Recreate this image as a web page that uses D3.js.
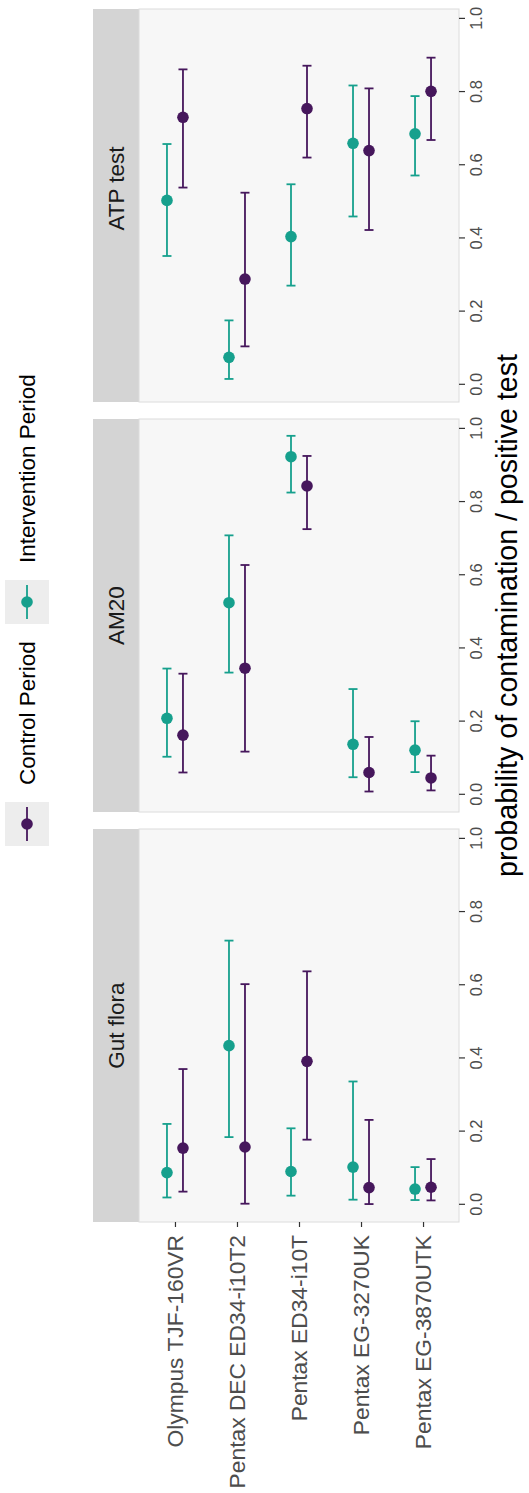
<!DOCTYPE html>
<html>
<head>
<meta charset="utf-8">
<script src="https://cdn.jsdelivr.net/npm/d3@7"></script>
<style>
  body { margin: 0; background: #fff; }
  text { font-family: "Liberation Sans", Arial, sans-serif; }
</style>
</head>
<body>
<div id="wrapper"></div>
<script>
// values: [estimate, lower, upper] per device
const devices = [
    "Olympus TJF-160VR",
    "Pentax DEC ED34-i10T2",
    "Pentax ED34-i10T",
    "Pentax EG-3270UK",
    "Pentax EG-3870UTK"
];
const facets = ["Gut flora", "AM20", "ATP test"];
const periods = ["Control Period", "Intervention Period"];

const gutControl = [[0.155, 0.036, 0.371], [0.158, 0.003, 0.603], [0.392, 0.178, 0.638], [0.047, 0.002, 0.232], [0.048, 0.012, 0.125]];
const gutIntervention = [[0.088, 0.020, 0.221], [0.435, 0.185, 0.722], [0.091, 0.025, 0.209], [0.103, 0.014, 0.337], [0.043, 0.013, 0.103]];
const am20Control = [[0.163, 0.061, 0.331], [0.346, 0.118, 0.628], [0.844, 0.726, 0.926], [0.061, 0.009, 0.158], [0.046, 0.012, 0.107]];
const am20Intervention = [[0.209, 0.104, 0.345], [0.525, 0.334, 0.709], [0.924, 0.826, 0.981], [0.138, 0.048, 0.289], [0.122, 0.062, 0.201]];
const atpControl = [[0.731, 0.539, 0.862], [0.289, 0.105, 0.525], [0.755, 0.621, 0.872], [0.640, 0.423, 0.810], [0.802, 0.669, 0.894]];
const atpIntervention = [[0.504, 0.352, 0.658], [0.075, 0.016, 0.176], [0.405, 0.271, 0.548], [0.660, 0.460, 0.818], [0.686, 0.572, 0.789]];

const probTicks = [0, 0.2, 0.4, 0.6, 0.8, 1.0];

function drawChart() {
    // 1. Assemble data

    const series = {
        "Gut flora": { "Control Period": gutControl, "Intervention Period": gutIntervention },
        "AM20": { "Control Period": am20Control, "Intervention Period": am20Intervention },
        "ATP test": { "Control Period": atpControl, "Intervention Period": atpIntervention }
    };
    const data = [];
    facets.forEach(f => periods.forEach(p => series[f][p].forEach((v, i) => {
        data.push({ facet: f, period: p, device: devices[i], est: v[0], lo: v[1], hi: v[2] });
    })));

    // 2. Dimensions (drawn unrotated, then turned -90deg)

    const dimensions = {
        width: 1493,
        height: 529,
        panelLeft: 271,
        panelRight: 1484,
        stripTop: 93,
        panelTop: 139,
        panelBottom: 459
    };

    const wrapper = d3.select("#wrapper")
        .append("svg")
        .attr("width", dimensions.height)
        .attr("height", dimensions.width);

    const bounds = wrapper.append("g")
        .attr("transform", `translate(0,${dimensions.width}) rotate(-90)`);

    // 3. Scales

    const facetScale = d3.scaleBand()
        .domain(facets)
        .range([dimensions.panelLeft, dimensions.panelRight])
        .paddingInner(17 / 410);

    const xScale = d3.scaleLinear()
        .domain([-0.047, 1.027])
        .range([0, facetScale.bandwidth()]);

    const yScale = d3.scalePoint()
        .domain(devices)
        .range([dimensions.panelTop, dimensions.panelBottom])
        .padding(0.58);

    const dodge = d3.scalePoint()
        .domain(["Intervention Period", "Control Period"])
        .range([-8, 8]);

    const colorScale = d3.scaleOrdinal()
        .domain(periods)
        .range(["#46175c", "#16a08d"]);

    // strip label offsets as seen in the picture
    const stripShift = { "Gut flora": 0, "AM20": 0, "ATP test": 17 };

    // 4. Panels and strips

    const panels = bounds.selectAll(".panel")
        .data(facets)
        .join("g")
        .attr("class", "panel")
        .attr("transform", d => `translate(${facetScale(d)},0)`);

    panels.append("rect")
        .attr("x", 0)
        .attr("y", dimensions.stripTop)
        .attr("width", facetScale.bandwidth())
        .attr("height", dimensions.panelTop - dimensions.stripTop)
        .attr("fill", "#d4d4d4");

    panels.append("text")
        .attr("x", d => facetScale.bandwidth() / 2 + stripShift[d])
        .attr("y", (dimensions.stripTop + dimensions.panelTop) / 2 + 8)
        .attr("text-anchor", "middle")
        .attr("fill", "#1a1a1a")
        .style("font-size", "22.5px")
        .text(d => d);

    panels.append("rect")
        .attr("x", 0)
        .attr("y", dimensions.panelTop)
        .attr("width", facetScale.bandwidth())
        .attr("height", dimensions.panelBottom - dimensions.panelTop)
        .attr("fill", "#f7f7f7")
        .attr("stroke", "#dcdcdc")
        .attr("stroke-width", 1);

    // 5. Error bars and points

    const marks = panels.selectAll(".mark")
        .data(f => data.filter(d => d.facet === f))
        .join("g")
        .attr("class", "mark")
        .attr("transform", d => `translate(0,${yScale(d.device) + dodge(d.period)})`)
        .attr("stroke", d => colorScale(d.period))
        .attr("fill", d => colorScale(d.period));

    marks.append("line")
        .attr("x1", d => xScale(d.lo))
        .attr("x2", d => xScale(d.hi))
        .attr("stroke-width", 1.8);

    marks.selectAll(".cap")
        .data(d => [d.lo, d.hi])
        .join("line")
        .attr("class", "cap")
        .attr("x1", v => xScale(v))
        .attr("x2", v => xScale(v))
        .attr("y1", -4.5)
        .attr("y2", 4.5)
        .attr("stroke-width", 1.8);

    marks.append("circle")
        .attr("cx", d => xScale(d.est))
        .attr("r", 5.8)
        .attr("stroke", "none");

    // 6. Axes

    panels.each(function() {
        const xAxis = d3.select(this).append("g")
            .attr("transform", `translate(0,${dimensions.panelBottom})`)
            .call(d3.axisBottom(xScale).tickValues(probTicks).tickFormat(d3.format(".1f")).tickSize(6).tickPadding(5));
        xAxis.select(".domain").remove();
        xAxis.selectAll(".tick line").attr("stroke", "#333").attr("stroke-width", 1.2);
        xAxis.selectAll(".tick text")
            .attr("fill", "#4d4d4d")
            .style("font-size", "16.5px");
    });

    const yAxis = bounds.append("g")
        .attr("transform", `translate(${dimensions.panelLeft},0)`)
        .call(d3.axisLeft(yScale).tickSize(5).tickPadding(8));
    yAxis.select(".domain").remove();
    yAxis.selectAll(".tick line").attr("stroke", "#333").attr("stroke-width", 1.2);
    yAxis.selectAll(".tick text")
        .attr("fill", "#4d4d4d")
        .style("font-size", "22.8px");

    bounds.append("text")
        .attr("x", (dimensions.panelLeft + dimensions.panelRight) / 2)
        .attr("y", 517)
        .attr("text-anchor", "middle")
        .attr("fill", "#000")
        .style("font-size", "28.6px")
        .text("probability of contamination / positive test");

    // 7. Legend

    const legendX = d3.scaleOrdinal()
        .domain(periods)
        .range([647, 869]);

    const legend = bounds.selectAll(".legend")
        .data(periods)
        .join("g")
        .attr("class", "legend")
        .attr("transform", d => `translate(${legendX(d)},5)`);

    legend.append("rect")
        .attr("width", 44)
        .attr("height", 44)
        .attr("fill", "#ededed");

    legend.append("line")
        .attr("x1", 5)
        .attr("x2", 39)
        .attr("y1", 22)
        .attr("y2", 22)
        .attr("stroke", d => colorScale(d))
        .attr("stroke-width", 1.8);

    legend.append("circle")
        .attr("cx", 22)
        .attr("cy", 22)
        .attr("r", 5.8)
        .attr("fill", d => colorScale(d));

    legend.append("text")
        .attr("x", 61)
        .attr("y", 30)
        .attr("fill", "#000")
        .style("font-size", "22.5px")
        .text(d => d);
}

drawChart();
</script>
</body>
</html>
